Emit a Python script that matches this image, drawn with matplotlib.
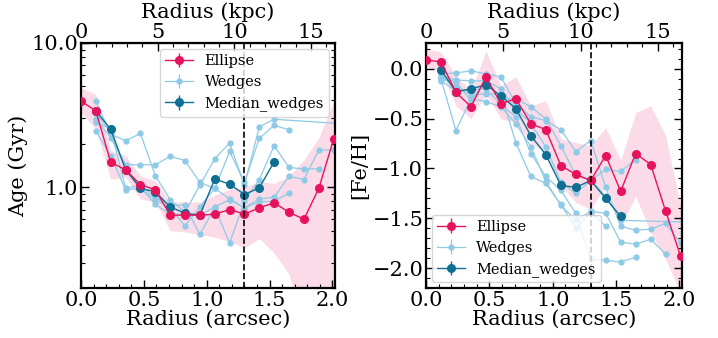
import numpy as np
import matplotlib
matplotlib.use("Agg")
import matplotlib.pyplot as plt
from matplotlib.ticker import (FormatStrFormatter, NullFormatter, MultipleLocator,
                               FixedLocator)

# ---------------- data ----------------
radius = [0.0, 0.118, 0.236, 0.355, 0.473, 0.591, 0.709, 0.827, 0.945, 1.064,
          1.182, 1.300, 1.418, 1.536, 1.654, 1.773, 1.891, 2.009]
tail_r = [2.37]
r_eff_line = 1.30
kpc_per_arcsec = 8.2
kpc_ticks = [0, 5, 10, 15]

nan = np.nan
age_ellipse = [3.96, 3.38, 1.49, 1.32, 1.04, 0.96, 0.64, 0.64, 0.64, 0.65,
               0.70, 0.65, 0.72, 0.78, 0.67, 0.60, 0.98, 2.15]
age_ellipse_hi = [4.9, 4.4, 1.79, 1.65, 1.20, 1.11, 0.79, 0.79, 0.79, 0.88,
                  0.97, 1.00, 1.10, 1.06, 1.19, 1.55, 2.20, 3.90]
age_ellipse_lo = [3.29, 2.53, 1.14, 1.17, 0.83, 0.79, 0.50, 0.49, 0.47, 0.45,
                  0.42, 0.38, 0.44, 0.35, 0.25, 0.10, 0.10, 0.10]
age_median = [nan, 3.38, 2.53, 1.32, 0.98, 0.93, 0.73, 0.66, 0.64, 1.14,
              1.05, 0.89, 0.99, 1.50, nan, nan, nan, nan]
age_w1 = [nan, 3.96, 2.33, 2.10, 2.36, 1.20, 0.82, 0.67, 1.03, 1.58,
          2.02, 1.03, 2.62, 2.96, nan, nan, nan, nan]
age_w1_tail = [2.65]
age_w2 = [nan, 2.96, 2.21, 1.43, 1.43, 1.43, 1.64, 1.53, 1.08, 0.98,
          1.77, 1.08, 2.18, 2.69, 2.50, nan, nan, nan]
age_w3 = [nan, 2.84, 2.53, 0.98, 1.03, 0.85, 0.75, 0.75, 0.47, 0.72,
          0.41, 0.80, 1.13, 1.94, 1.37, 1.34, 1.34, nan]
age_w4 = [nan, 2.46, 1.65, 0.96, 0.98, 0.82, 0.72, 0.54, 0.73, 0.98,
          0.83, 0.72, 0.83, 0.85, 1.19, 1.13, 1.81, 1.81]
age_w5 = [nan, 3.29, 2.40, 1.34, 1.00, 0.76, 0.65, 0.65, 0.64, 0.73,
          0.82, 0.72, 0.79, 0.80, 0.91, nan, nan, nan]

feh_ellipse = [0.09, 0.07, -0.235, -0.38, -0.08, -0.35, -0.30, -0.55, -0.61, -0.97,
               -1.06, -1.12, -0.87, -1.23, -0.85, -0.96, -1.43, -1.88]
feh_ellipse_hi = [0.20, 0.17, -0.07, -0.22, 0.18, -0.17, -0.08, -0.37, -0.32, -0.70,
                  -0.74, -0.77, -0.59, -0.92, -0.44, -0.37, -0.67, -1.38]
feh_ellipse_lo = [0.02, -0.02, -0.37, -0.50, -0.25, -0.50, -0.54, -0.74, -0.84, -1.17,
                  -1.34, -1.41, -1.17, -1.58, -1.28, -1.64, -1.91, -2.25]
feh_median = [nan, -0.01, -0.23, -0.20, -0.16, -0.27, -0.40, -0.67, -0.86, -1.17,
              -1.19, -1.12, -1.30, -1.48, nan, nan, nan, nan]
feh_w1 = [nan, -0.05, -0.04, -0.02, -0.05, -0.08, -0.35, -0.48, -0.52, -0.61,
          -0.83, -0.72, -1.19, -1.58, -1.62, -1.61, -1.55, -1.75]
feh_w2 = [nan, -0.08, -0.11, -0.12, -0.12, -0.30, -0.30, -0.38, -0.50, -0.77,
          -1.07, -1.12, -1.01, -1.03, -0.91, nan, nan, nan]
feh_w3 = [nan, -0.10, -0.62, -0.30, -0.33, -0.38, -0.55, -0.78, -1.13, -1.37,
          -1.52, -1.43, -1.45, -1.74, -1.76, -1.71, -1.86, nan]
feh_w4 = [nan, -0.12, -0.22, -0.21, -0.20, -0.36, -0.48, -0.85, -1.08, -1.22,
          -1.45, -1.91, -1.92, -1.94, -1.89, nan, nan, nan]
feh_w5 = [nan, -0.10, -0.13, -0.32, -0.12, -0.20, -0.40, -0.55, -0.78, -1.14,
          -1.25, -1.12, -1.28, -1.52, nan, nan, nan, nan]
feh_w5_tail = [-1.55]
feh_w6 = [nan, -0.08, -0.18, -0.26, -0.25, -0.25, -0.74, -1.08, -1.15, -1.36,
          -1.60, -1.44, -1.58, nan, nan, nan, nan, nan]

# ---------------- style ----------------
plt.rcParams['font.family'] = ['DejaVu Serif']
plt.rcParams['mathtext.fontset'] = 'dejavuserif'

C_ELL = '#e8125c'
C_WED = '#8ecae6'
C_MED = '#0f6f92'
C_BAND = '#fadbe7'
FS = 15

fig = plt.figure(figsize=(7.18, 3.38), dpi=100)
axL = fig.add_axes([81/718, 50/338, 254/718, 245/338])
axR = fig.add_axes([426/718, 50/338, 256/718, 245/338])

r = np.array(radius)


def clean(x, y):
    x = np.asarray(x, float)
    y = np.asarray(y, float)
    m = ~np.isnan(y)
    return x[m], y[m]


def draw(ax, ell, hi, lo, med, wedges, tails):
    ax.fill_between(r, lo, hi, color=C_BAND, lw=0, zorder=1)
    first = True
    for i, w in enumerate(wedges):
        x, y = clean(r, w)
        if i in tails:
            x = np.concatenate([x, tail_r])
            y = np.concatenate([y, tails[i]])
        ax.errorbar(x, y, yerr=np.zeros_like(y), color=C_WED, marker='o', ms=3.5,
                    lw=0.9, elinewidth=0.9, zorder=2,
                    label='Wedges' if first else None)
        first = False
    x, y = clean(r, ell)
    ax.errorbar(x, y, yerr=np.zeros_like(y), color=C_ELL, marker='o', ms=5.5,
                lw=1.0, elinewidth=1.0, zorder=4, label='Ellipse')
    x, y = clean(r, med)
    ax.errorbar(x, y, yerr=np.zeros_like(y), color=C_MED, marker='o', ms=5.5,
                lw=1.0, elinewidth=1.0, zorder=3, label='Median_wedges')
    ax.axvline(r_eff_line, color='k', ls='--', lw=1.2, zorder=5)
    ax.set_xlim(0, 2.02)
    ax.set_xlabel('Radius (arcsec)', fontsize=FS, labelpad=0)
    ax.xaxis.set_major_locator(MultipleLocator(0.5))
    ax.xaxis.set_minor_locator(MultipleLocator(0.1))
    ax.tick_params(which='both', direction='in', top=False, right=True,
                   labelsize=FS, pad=2)
    ax.tick_params(which='major', length=6, width=1.0)
    ax.tick_params(which='minor', length=3, width=0.8)
    for s in ax.spines.values():
        s.set_linewidth(1.6)
    sec = ax.secondary_xaxis('top', functions=(lambda x: x * kpc_per_arcsec,
                                                lambda x: x / kpc_per_arcsec))
    sec.set_xlabel('Radius (kpc)', fontsize=FS, labelpad=3)
    sec.xaxis.set_major_locator(FixedLocator(kpc_ticks))
    sec.xaxis.set_minor_locator(MultipleLocator(1))
    sec.tick_params(which='both', direction='in', labelsize=FS, pad=1)
    sec.tick_params(which='major', length=6, width=1.0)
    sec.tick_params(which='minor', length=3, width=0.8)
    return ax


def add_legend(ax, loc):
    h, l = ax.get_legend_handles_labels()
    order = [l.index('Ellipse'), l.index('Wedges'), l.index('Median_wedges')]
    leg = ax.legend([h[i] for i in order], [l[i] for i in order], loc=loc,
                    fontsize=10.5, borderaxespad=0.4, handlelength=1.9,
                    labelspacing=0.5, handletextpad=0.8, borderpad=0.35)
    leg.set_zorder(10)


# Left: age
draw(axL, age_ellipse, age_ellipse_hi, age_ellipse_lo, age_median,
     [age_w1, age_w2, age_w3, age_w4, age_w5], {0: age_w1_tail})
axL.set_yscale('log')
axL.set_ylim(0.2, 10)
axL.yaxis.set_major_formatter(FormatStrFormatter('%.1f'))
axL.yaxis.set_minor_formatter(NullFormatter())
axL.set_ylabel('Age (Gyr)', fontsize=FS, labelpad=2)
add_legend(axL, 'upper right')

# Right: metallicity
draw(axR, feh_ellipse, feh_ellipse_hi, feh_ellipse_lo, feh_median,
     [feh_w1, feh_w2, feh_w3, feh_w4, feh_w5, feh_w6], {4: feh_w5_tail})
axR.set_ylim(-2.2, 0.26)
axR.yaxis.set_major_locator(MultipleLocator(0.5))
axR.yaxis.set_minor_locator(MultipleLocator(0.1))
axR.set_ylabel('[Fe/H]', fontsize=FS, labelpad=2)
add_legend(axR, 'lower left')

fig.savefig('out.png', dpi=100)
